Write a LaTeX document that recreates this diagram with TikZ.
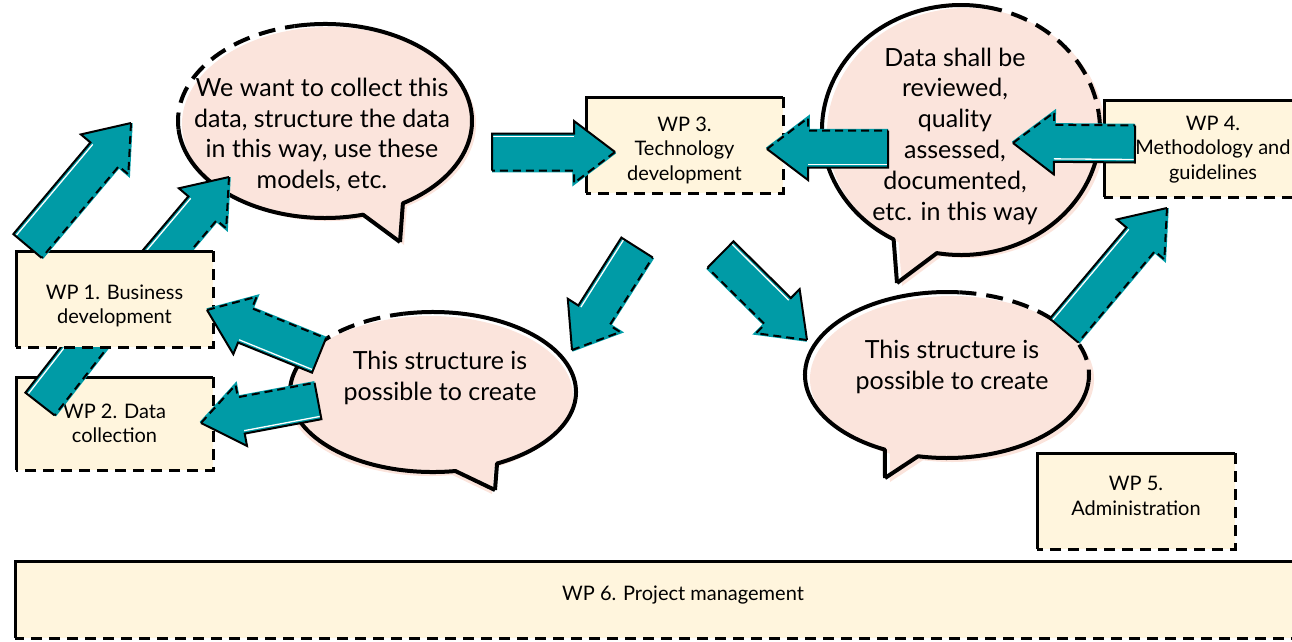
\documentclass[tikz,border=0pt]{standalone}
\usepackage{fontspec}
\setmainfont{Lato}
\usetikzlibrary{calc}

\definecolor{wpteal}{RGB}{0,155,166}
\definecolor{bubblepink}{RGB}{251,228,220}
\definecolor{wpcream}{RGB}{255,245,221}

\newcommand{\shaftw}{18.5pt}
\newcommand{\innerw}{15.5pt}
\newcommand{\headw}{31pt}
\newcommand{\headl}{41pt}

\newcommand{\wparrow}[3][90]{%
  \pgfmathsetmacro{\solidang}{#1}
  \pgfmathsetmacro{\dashang}{-1*(#1)}
  \coordinate (hb) at ($(#3)!\headl!(#2)$);
  \coordinate (s1) at ($(#2)!\shaftw!\solidang:(#3)$);
  \coordinate (s2) at ($(hb)!\shaftw!\solidang:(#3)$);
  \coordinate (s3) at ($(hb)!\headw!\solidang:(#3)$);
  \coordinate (d1) at ($(#2)!\shaftw!\dashang:(#3)$);
  \coordinate (d2) at ($(hb)!\shaftw!\dashang:(#3)$);
  \coordinate (d3) at ($(hb)!\headw!\dashang:(#3)$);
  \coordinate (w1) at ($(#2)!\innerw!\solidang:(#3)$);
  \coordinate (w2) at ($(hb)!\innerw!\solidang:(#3)$);
  \fill[wpteal] (s1) -- (s2) -- (s3) -- (#3) -- (d3) -- (d2) -- (d1) -- cycle;
  \draw[wpteal, line width=3.5pt] (#3) -- (d3) -- (d2) -- (d1);
  \draw[arrowline, dash pattern=on 8pt off 5pt] (#3) -- (d3) -- (d2) -- (d1);
  \draw[white, line width=1.3pt] (w1) -- (w2);
  \draw[arrowline] (d1) -- (s1) -- (s2) -- (s3) -- (#3);
}

\newcommand{\boxedges}[1]{%
  \draw[boxline] (#1.south west) -- (#1.north west) -- (#1.north east);
  \draw[boxline, boxdash] (#1.north east) -- (#1.south east) -- (#1.south west);
}

\begin{document}
\begin{tikzpicture}[x=1pt, y=-1pt,
  wpbox/.style={fill=wpcream, inner sep=0pt, outer sep=0pt},
  wptext/.style={align=center, font=\fontsize{20}{24.5}\selectfont},
  boxline/.style={line width=3pt},
  boxdash/.style={dash pattern=on 11pt off 7pt},
  bubbleline/.style={line width=4pt, line join=round},
  bubbledash/.style={dash pattern=on 17pt off 10pt},
  bubbletext/.style={align=center, font=\fontsize{25}{30.8}\selectfont},
  arrowline/.style={line width=2pt, line join=miter}]
\useasboundingbox (0,0) rectangle (1292,641);
\clip (0,0) rectangle (1292,641);

% speech bubbles
\fill[bubblepink, shift={(4,3)}] (400,242) -- ([shift={(75:147 and 97)}]325,121) arc[start angle=75, end angle=418, x radius=147, y radius=97] -- cycle;
\draw[bubbleline] (400,242) -- ([shift={(75:147 and 97)}]325,121) arc[start angle=75, end angle=175, x radius=147, y radius=97];
\draw[bubbleline, bubbledash] ([shift={(175:147 and 97)}]325,121) arc[start angle=175, end angle=258, x radius=147, y radius=97];
\draw[bubbleline] ([shift={(258:147 and 97)}]325,121) arc[start angle=258, end angle=418, x radius=147, y radius=97] -- (400,242);
\node[bubbletext] (collect) at (322,135) {We want to collect this\\data, structure the data\\in this way, use these\\models, etc.};

\fill[bubblepink, shift={(5,3)}] (897,283) -- ([shift={(119:139 and 125)}]961,130) arc[start angle=119, end angle=460, x radius=139, y radius=125] -- cycle;
\draw[bubbleline] (897,283) -- ([shift={(119:139 and 125)}]961,130) arc[start angle=119, end angle=280, x radius=139, y radius=125];
\draw[bubbleline, bubbledash] ([shift={(280:139 and 125)}]961,130) arc[start angle=280, end angle=353, x radius=139, y radius=125];
\draw[bubbleline] ([shift={(353:139 and 125)}]961,130) arc[start angle=353, end angle=460, x radius=139, y radius=125] -- (897,283);
\node[bubbletext] (review) at (955,136) {Data shall be\\reviewed,\\quality\\assessed,\\documented,\\etc. in this way};

\fill[bubblepink, shift={(-3,4)}] (495,490) -- ([shift={(81:143 and 80)}]433,392) arc[start angle=81, end angle=423.4, x radius=143, y radius=80] -- cycle;
\draw[bubbleline] (495,490) -- ([shift={(81:143 and 80)}]433,392) arc[start angle=81, end angle=215, x radius=143, y radius=80];
\draw[bubbleline, bubbledash] ([shift={(215:143 and 80)}]433,392) arc[start angle=215, end angle=258, x radius=143, y radius=80];
\draw[bubbleline] ([shift={(258:143 and 80)}]433,392) arc[start angle=258, end angle=423.4, x radius=143, y radius=80] -- (495,490);
\node[bubbletext] (create1) at (440,378) {This structure is\\possible to create};

\fill[bubblepink, shift={(5,4)}] (885,478) -- ([shift={(116:142 and 83)}]947,375) arc[start angle=116, end angle=461.8, x radius=142, y radius=83] -- cycle;
\draw[bubbleline] (885,478) -- ([shift={(116:142 and 83)}]947,375) arc[start angle=116, end angle=275, x radius=142, y radius=83];
\draw[bubbleline, bubbledash] ([shift={(275:142 and 83)}]947,375) arc[start angle=275, end angle=365, x radius=142, y radius=83];
\draw[bubbleline] ([shift={(365:142 and 83)}]947,375) arc[start angle=365, end angle=461.8, x radius=142, y radius=83] -- (885,478);
\node[bubbletext] (create2) at (952,367) {This structure is\\possible to create};

% arrow ends
\coordinate (a1t) at (27.5,246);  \coordinate (a1h) at (131,123);
\coordinate (a2t) at (125,300);   \coordinate (a2h) at (229,177);
\coordinate (a3t) at (40,404);    \coordinate (a3h) at (139,277);
\coordinate (a4t) at (492,152);   \coordinate (a4h) at (615,152);
\coordinate (a5t) at (888,149);   \coordinate (a5h) at (767,149);
\coordinate (a6t) at (1135,144);  \coordinate (a6h) at (1013,143);
\coordinate (a7t) at (637,247.5); \coordinate (a7h) at (572,350);
\coordinate (a8t) at (720.5,254.5); \coordinate (a8h) at (807,340);
\coordinate (a9t) at (1064,330.5); \coordinate (a9h) at (1167,208);
\coordinate (a10t) at (319,355.5); \coordinate (a10h) at (207,310);
\coordinate (a11t) at (318,401);  \coordinate (a11h) at (201,423);

% work packages
\node[wpbox, minimum width=197pt, minimum height=93pt, label={[wptext]center:WP 2. Data\\collection}] (wp2) at (114.5,423.5) {};
\boxedges{wp2}
\wparrow{a3t}{a3h}
\wparrow{a2t}{a2h}
\node[wpbox, minimum width=197pt, minimum height=96pt, label={[wptext, yshift=-7pt]center:WP 1. Business\\development}] (wp1) at (114.5,299) {};
\boxedges{wp1}
\node[wpbox, minimum width=197pt, minimum height=96pt, label={[wptext, yshift=-5pt]center:WP 3.\\Technology\\development}] (wp3) at (684.5,145) {};
\boxedges{wp3}
\node[wpbox, minimum width=218pt, minimum height=97pt, label={[wptext, yshift=-1pt]center:WP 4.\\Methodology and\\guidelines}] (wp4) at (1213,148.5) {};
\boxedges{wp4}
\node[wpbox, minimum width=198pt, minimum height=96pt, label={[wptext, yshift=5pt]center:WP 5.\\Administration}] (wp5) at (1136,501) {};
\boxedges{wp5}
\node[wpbox, minimum width=1336pt, minimum height=77pt, label={[wptext, yshift=4pt]center:WP 6. Project management}] (wp6) at (683,599.5) {};
\boxedges{wp6}

\wparrow{a1t}{a1h}
\wparrow{a4t}{a4h}
\wparrow{a5t}{a5h}
\wparrow{a6t}{a6h}
\wparrow[-90]{a7t}{a7h}
\wparrow{a8t}{a8h}
\wparrow{a9t}{a9h}
\wparrow{a10t}{a10h}
\wparrow{a11t}{a11h}
\end{tikzpicture}
\end{document}
